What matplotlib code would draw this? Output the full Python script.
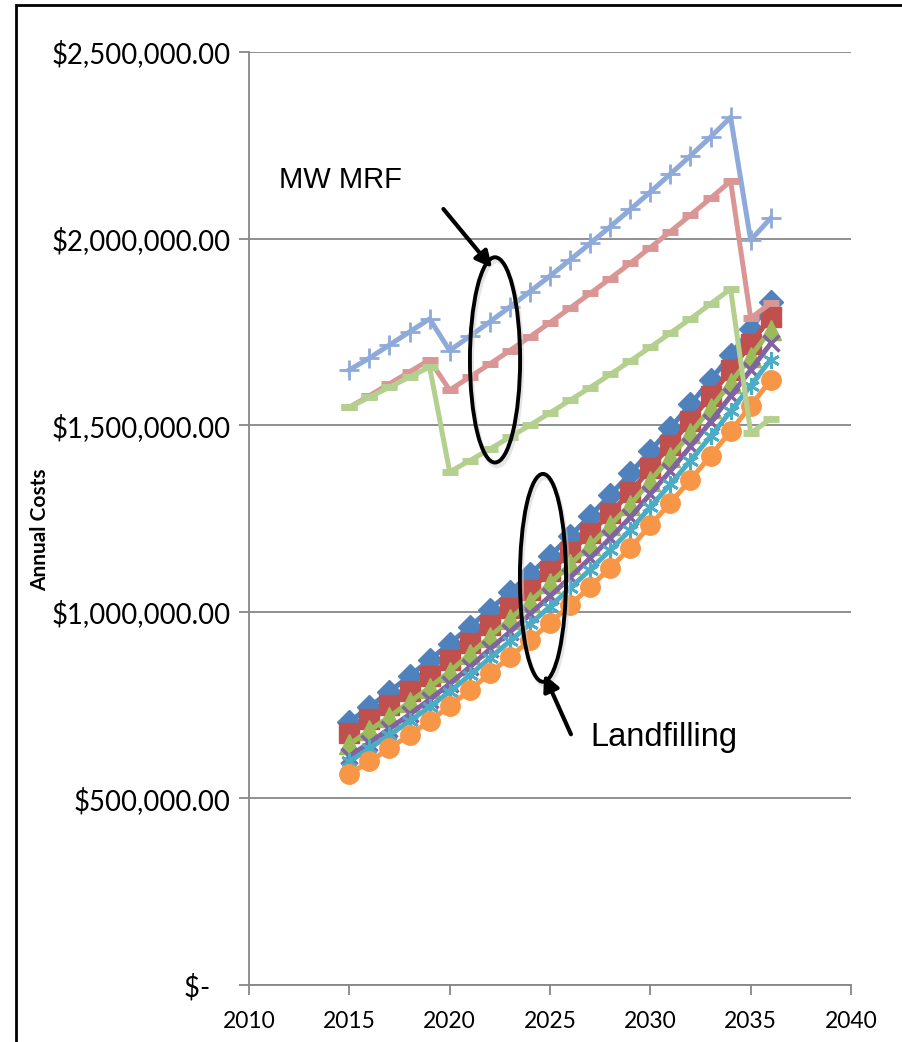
"""
Annual costs, landfilling scenarios vs MW MRF scenarios, 2015-2036.
Values read off the original Excel chart.
"""

import matplotlib
matplotlib.use("Agg")
import matplotlib.pyplot as plt
from matplotlib.patches import Ellipse, Rectangle

years = list(range(2015, 2037))

# landfilling scenarios ($M)
lf_blue   = [0.705, 0.745, 0.786, 0.828, 0.871, 0.915, 0.960, 1.006, 1.053, 1.101, 1.150,
             1.203, 1.257, 1.313, 1.371, 1.431, 1.493, 1.556, 1.621, 1.688, 1.757, 1.830]
lf_red    = [0.675, 0.712, 0.750, 0.788, 0.828, 0.871, 0.917, 0.965, 1.011, 1.059, 1.108,
             1.159, 1.211, 1.264, 1.320, 1.384, 1.447, 1.512, 1.578, 1.647, 1.718, 1.790]
lf_green  = [0.645, 0.682, 0.719, 0.758, 0.797, 0.840, 0.886, 0.933, 0.980, 1.027, 1.076,
             1.127, 1.178, 1.232, 1.287, 1.351, 1.414, 1.478, 1.545, 1.613, 1.684, 1.756]
lf_purple = [0.613, 0.649, 0.687, 0.725, 0.765, 0.807, 0.852, 0.900, 0.946, 0.994, 1.042,
             1.092, 1.144, 1.197, 1.253, 1.316, 1.378, 1.443, 1.509, 1.578, 1.648, 1.719]
lf_cyan   = [0.599, 0.634, 0.670, 0.707, 0.745, 0.786, 0.830, 0.876, 0.921, 0.967, 1.014,
             1.063, 1.113, 1.165, 1.219, 1.281, 1.342, 1.405, 1.470, 1.537, 1.606, 1.676]
lf_orange = [0.565, 0.599, 0.634, 0.670, 0.707, 0.747, 0.790, 0.835, 0.879, 0.924, 0.970,
             1.018, 1.067, 1.118, 1.171, 1.232, 1.292, 1.354, 1.418, 1.484, 1.552, 1.621]

# MW MRF scenarios ($M)
mrf_blue  = [1.648, 1.680, 1.715, 1.750, 1.785, 1.700, 1.738, 1.777, 1.817, 1.858, 1.900,
             1.943, 1.987, 2.032, 2.078, 2.125, 2.173, 2.222, 2.272, 2.325, 1.996, 2.055]
mrf_red   = [1.548, 1.579, 1.611, 1.643, 1.675, 1.594, 1.629, 1.664, 1.700, 1.737, 1.775,
             1.814, 1.853, 1.893, 1.934, 1.976, 2.019, 2.063, 2.108, 2.154, 1.787, 1.827]
mrf_green = [1.548, 1.575, 1.602, 1.629, 1.656, 1.375, 1.405, 1.436, 1.468, 1.500, 1.533,
             1.567, 1.601, 1.636, 1.672, 1.709, 1.747, 1.785, 1.825, 1.865, 1.479, 1.517]

y_ticks = [0, 500000, 1000000, 1500000, 2000000, 2500000]
y_tick_labels = ["$-   ", "$500,000.00", "$1,000,000.00", "$1,500,000.00",
                 "$2,000,000.00", "$2,500,000.00"]
x_ticks = [2010, 2015, 2020, 2025, 2030, 2035, 2040]

FONT = "Lato"
GRID = "#878787"

fig = plt.figure(figsize=(9.02, 10.42), dpi=100)
ax = fig.add_axes([249 / 902, 57 / 1042, 602 / 902, 933 / 1042])

M = 1e6
lw = 3.6
# landfilling: drawn first so the MRF lines sit on top
ax.plot(years, [v * M for v in lf_blue], color="#4F81BD", lw=lw, marker="D", ms=12, mec="#4F81BD")
ax.plot(years, [v * M for v in lf_red], color="#C0504D", lw=lw, marker="s", ms=14, mec="#C0504D")
ax.plot(years, [v * M for v in lf_green], color="#9BBB59", lw=lw, marker="^", ms=14, mec="#9BBB59")
ax.plot(years, [v * M for v in lf_purple], color="#8064A2", lw=lw, marker="x", ms=11, mew=2.5)
ax.plot(years, [v * M for v in lf_cyan], color="#4BACC6", lw=lw, marker=(6, 2, 0), ms=12, mew=2)
ax.plot(years, [v * M for v in lf_orange], color="#F79646", lw=lw, marker="o", ms=14, mec="#F79646")

ax.plot(years, [v * M for v in mrf_blue], color="#8EAADB", lw=lw, marker="+", ms=14, mew=2)
ax.plot(years, [v * M for v in mrf_red], color="#D99694", lw=lw, marker="_", ms=12, mew=5)
ax.plot(years, [v * M for v in mrf_green], color="#B4D08F", lw=lw, marker="_", ms=12, mew=5)

ax.set_xlim(2010, 2040)
ax.set_ylim(0, 2500000)
ax.set_xticks(x_ticks)
ax.set_xticklabels([str(x) for x in x_ticks], fontfamily=FONT, fontsize=16.5)
ax.set_yticks(y_ticks)
ax.set_yticklabels(y_tick_labels, fontfamily=FONT, fontsize=19.8)
ax.tick_params(axis="both", colors=GRID, labelcolor="black", length=7, width=1.3)
ax.tick_params(axis="x", pad=12)
ax.tick_params(axis="y", pad=6)
ax.grid(axis="y", color=GRID, lw=1.3)
ax.set_axisbelow(True)
for side in ("top", "right"):
    ax.spines[side].set_visible(False)
for side in ("left", "bottom"):
    ax.spines[side].set_color(GRID)
    ax.spines[side].set_linewidth(1.3)
ax.set_ylabel("Annual Costs", fontfamily=FONT, fontsize=15, fontweight="bold")
ax.yaxis.set_label_coords(-0.33, 0.488)

# annotations: ellipses, arrows, labels
for cx, cy, w, h in [(2022.26, 1.675 * M, 2.5, 0.55 * M), (2024.65, 1.091 * M, 2.3, 0.557 * M)]:
    ax.add_patch(Ellipse((cx + 0.1, cy - 0.01 * M), w, h, fill=False, ec="#cccccc",
                         lw=3, alpha=0.5, zorder=9))
    ax.add_patch(Ellipse((cx, cy), w, h, fill=False, ec="black", lw=2.8, zorder=10))

ax.annotate("", xy=(2022.2, 1.916 * M), xytext=(2019.6, 2.085 * M),
            arrowprops=dict(arrowstyle="-|>", color="black", lw=3, mutation_scale=24), zorder=11)
ax.annotate("", xy=(2024.65, 0.839 * M), xytext=(2026.1, 0.665 * M),
            arrowprops=dict(arrowstyle="-|>", color="black", lw=3, mutation_scale=24), zorder=11)

ax.text(2011.5, 2.157 * M, "MW MRF", fontfamily="Liberation Sans", fontsize=21, va="center")
ax.text(2027.0, 0.662 * M, "Landfilling", fontfamily="Liberation Sans", fontsize=23.5, va="center")

# outer chart border (cropped at right/bottom in the source)
fig.patches.append(Rectangle((16 / 902, -0.1), 1.2, 1.1 - 5 / 1042, transform=fig.transFigure,
                             fill=False, ec="black", lw=2))

fig.savefig("out.png", dpi=100)
